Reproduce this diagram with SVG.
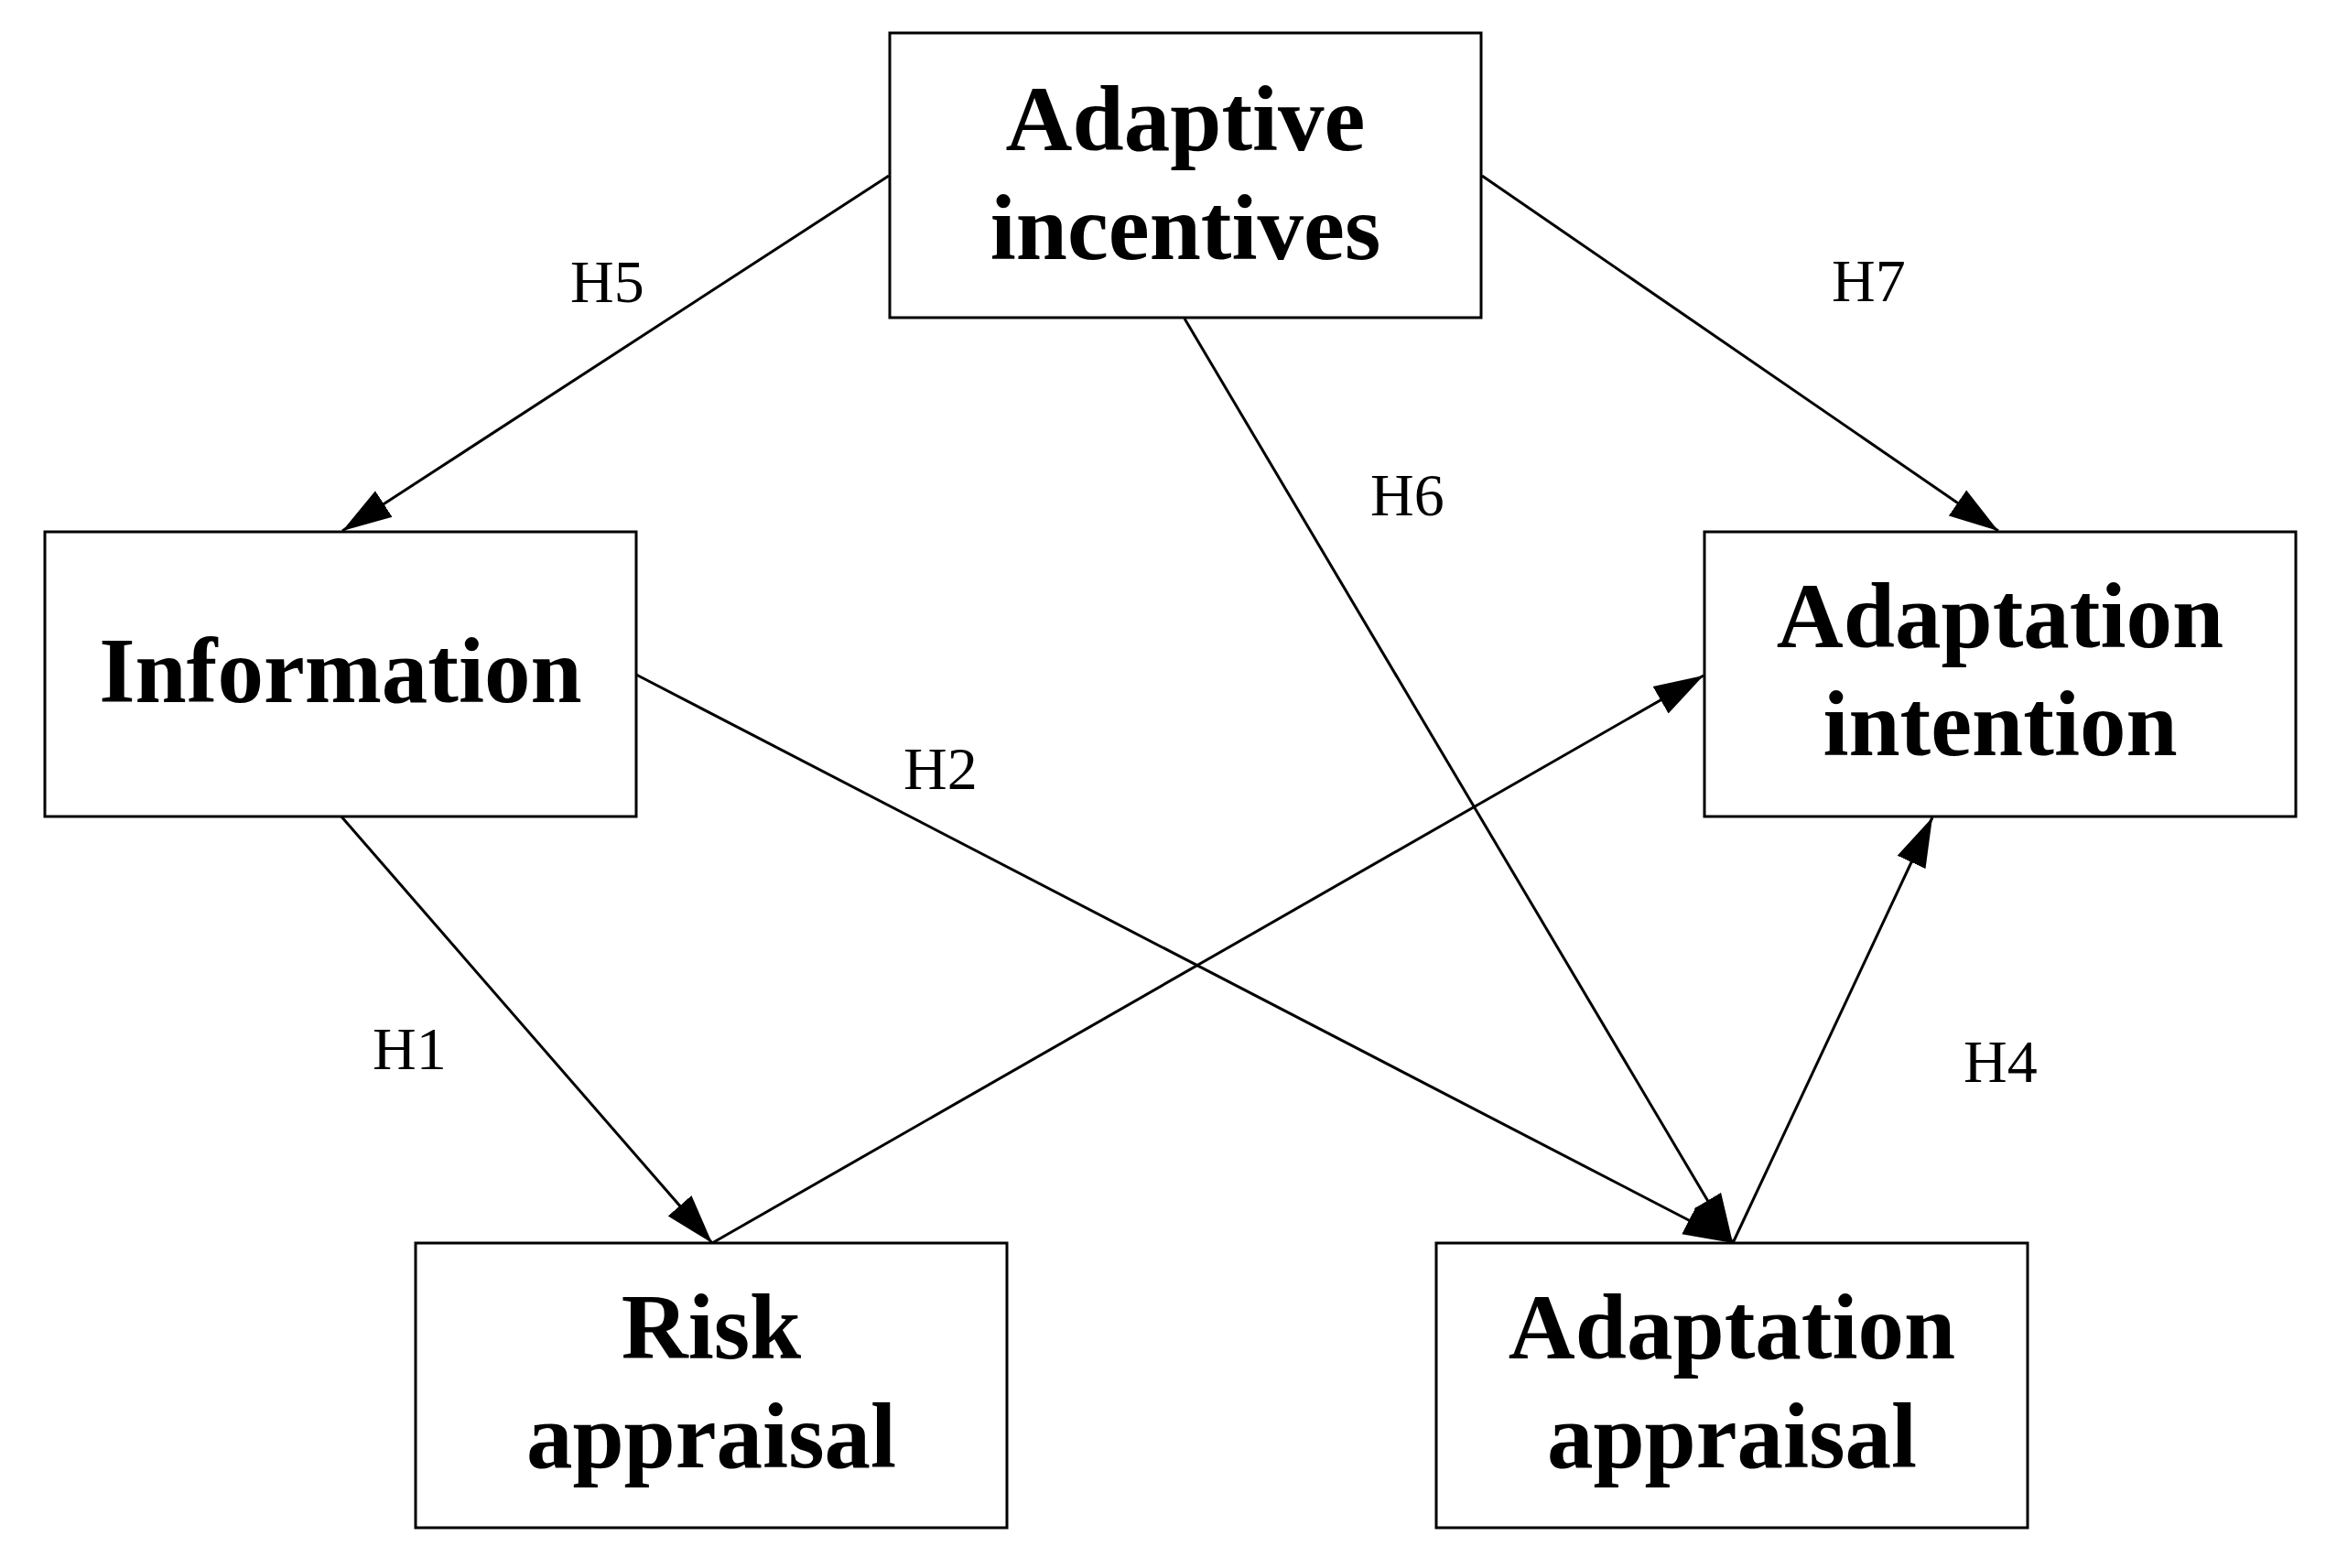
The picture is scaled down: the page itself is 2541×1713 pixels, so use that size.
<svg xmlns="http://www.w3.org/2000/svg" width="2541" height="1713" viewBox="0 0 2541 1713">
<style>
.box{fill:#fff;stroke:#000;stroke-width:3}
.t{font-family:"Liberation Serif","Times New Roman",serif;font-weight:bold;font-size:101px;text-anchor:middle;fill:#000}
.lab{font-family:"Liberation Serif","Times New Roman",serif;font-size:66px;fill:#000}
.c{stroke:#000;stroke-width:3;fill:none;marker-end:url(#arr)}
</style>
<defs>
<marker id="arr" markerUnits="userSpaceOnUse" viewBox="0 0 54 36" markerWidth="54" markerHeight="36" refX="54" refY="18" orient="auto">
<path d="M0,1 L54,18 L0,35 z" fill="#000"/>
</marker>
</defs>
<rect width="2541" height="1713" fill="#fff"/>
<g id="connectors">
<line class="c" x1="971" y1="192" x2="374" y2="580"/>
<line class="c" x1="1619" y1="192" x2="2183" y2="580"/>
<line class="c" x1="1294" y1="348" x2="1893" y2="1358"/>
<line class="c" x1="695" y1="737" x2="1893" y2="1358"/>
<line class="c" x1="372" y1="891" x2="778" y2="1358"/>
<line class="c" x1="778" y1="1358" x2="1861" y2="738"/>
<line class="c" x1="1893" y1="1358" x2="2111" y2="893"/>
</g>
<g id="labels">
<text class="lab" x="623" y="330">H5</text>
<text class="lab" x="2001" y="329">H7</text>
<text class="lab" x="1497" y="563">H6</text>
<text class="lab" x="987" y="862">H2</text>
<text class="lab" x="407" y="1168">H1</text>
<text class="lab" x="2145" y="1182">H4</text>
</g>
<g id="adaptive-incentives">
<rect class="box" x="972" y="36" width="646" height="311"/>
<text class="t" x="1295" y="164">Adaptive</text>
<text class="t" x="1295" y="283">incentives</text>
</g>
<g id="information">
<rect class="box" x="49" y="581" width="646" height="311"/>
<text class="t" x="372" y="767">Information</text>
</g>
<g id="adaptation-intention">
<rect class="box" x="1862" y="581" width="646" height="311"/>
<text class="t" x="2185" y="707">Adaptation</text>
<text class="t" x="2185" y="825">intention</text>
</g>
<g id="risk-appraisal">
<rect class="box" x="454" y="1358" width="646" height="311"/>
<text class="t" x="777" y="1484">Risk</text>
<text class="t" x="777" y="1603">appraisal</text>
</g>
<g id="adaptation-appraisal">
<rect class="box" x="1569" y="1358" width="646" height="311"/>
<text class="t" x="1892" y="1484">Adaptation</text>
<text class="t" x="1892" y="1603">appraisal</text>
</g>
</svg>
